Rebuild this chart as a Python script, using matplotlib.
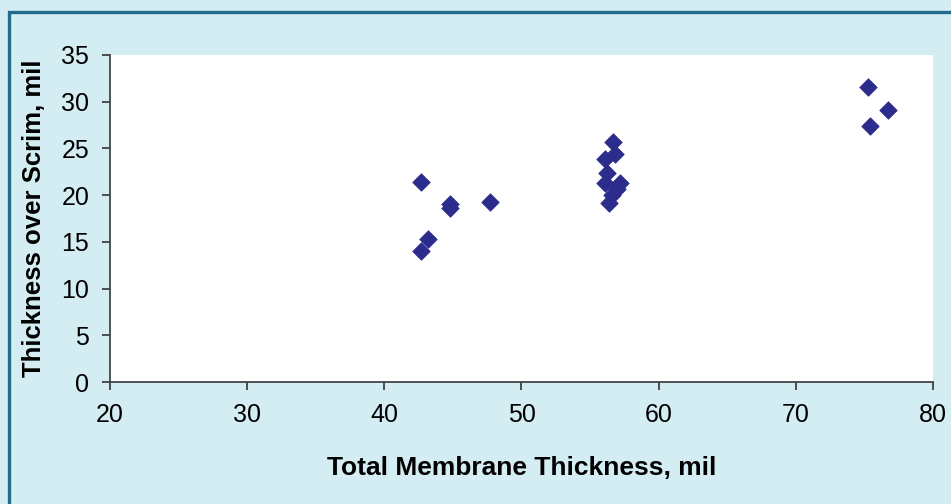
import matplotlib.pyplot as plt
from matplotlib.patches import Rectangle

# Total membrane thickness vs thickness over scrim (mil)
total_thickness = [42.7, 42.7, 43.2, 44.8, 44.8, 47.7,
                   56.7, 56.8, 56.1, 56.2, 56.1, 57.2, 57.0, 56.6, 56.4,
                   75.3, 75.4, 76.7]
over_scrim = [21.4, 14.0, 15.3, 19.0, 18.6, 19.3,
              25.7, 24.4, 23.9, 22.4, 21.3, 21.3, 20.7, 20.0, 19.2,
              31.6, 27.4, 29.1]

x_ticks = [20, 30, 40, 50, 60, 70, 80]
y_ticks = [0, 5, 10, 15, 20, 25, 30, 35]

plt.rcParams['font.family'] = ['Liberation Sans', 'DejaVu Sans']

fig = plt.figure(figsize=(9.51, 5.04), dpi=100)
fig.patch.set_facecolor('#d4edf3')

# dark frame on left/top edges
fig.patches.append(Rectangle((0.0095, -0.1), 1.2, 1.076, transform=fig.transFigure,
                             fill=False, edgecolor='#236a8e', linewidth=2.4))

ax = fig.add_axes([0.1157, 0.242, 0.8653, 0.649])
ax.set_facecolor('white')
ax.scatter(total_thickness, over_scrim, marker='D', s=80, color='#2c2c8c',
           edgecolors='#2c2c8c', linewidths=0.5, zorder=3)

ax.set_xlim(20, 80)
ax.set_ylim(0, 35)
ax.set_xticks(x_ticks)
ax.set_yticks(y_ticks)
ax.tick_params(direction='out', length=6, width=1.2, labelsize=18, color='#333333')
ax.tick_params(axis='x', pad=9)
ax.tick_params(axis='y', pad=9)
for s in ['top', 'right']:
    ax.spines[s].set_visible(False)
for s in ['left', 'bottom']:
    ax.spines[s].set_color('#444444')
    ax.spines[s].set_linewidth(1.3)

ax.set_xlabel('Total Membrane Thickness, mil', fontsize=19, fontweight='bold', labelpad=21)
ax.set_ylabel('Thickness over Scrim, mil', fontsize=18.5, fontweight='bold', labelpad=11)

fig.savefig('out.png', dpi=100, facecolor=fig.get_facecolor())
